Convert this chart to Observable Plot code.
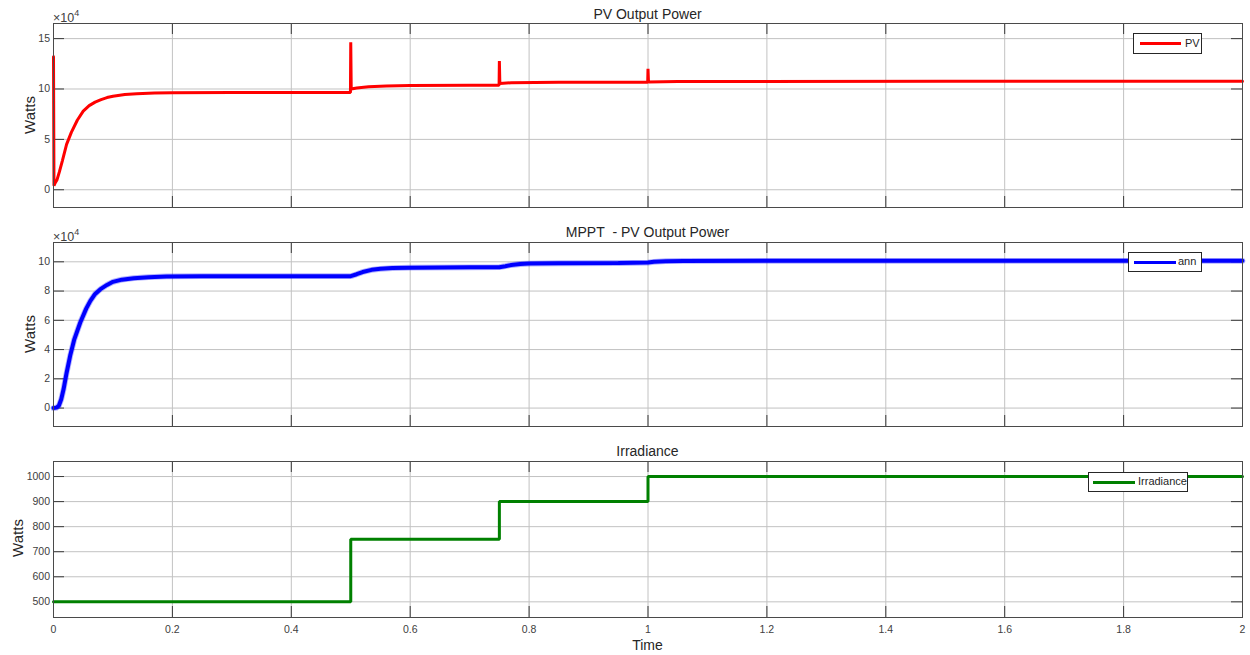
<!DOCTYPE html>
<html>
<head>
<meta charset="utf-8">
<script src="https://cdn.jsdelivr.net/npm/d3@7"></script>
<script src="https://cdn.jsdelivr.net/npm/@observablehq/plot@0.6"></script>
<style>
  html, body { margin: 0; padding: 0; background: #fff; }
  #wrap { position: relative; width: 1250px; height: 655px; overflow: hidden; background: #fff;
          font-family: "Liberation Sans", Arial, sans-serif; color: #262626; }
  .abs { position: absolute; white-space: nowrap; line-height: 1; }
  .legend { position: absolute; background: #fff; border: 1px solid #262626; box-sizing: border-box; }
  .legend .sample { position: absolute; }
  .legend .lab { position: absolute; line-height: 1; font-size: 11px; color: #262626; white-space: nowrap; }
  svg { position: absolute; left: 0; }
</style>
</head>
<body>
<div id="wrap"></div>
<script>
// ---------------- data ----------------
const xTicks = [0, 0.2, 0.4, 0.6, 0.8, 1, 1.2, 1.4, 1.6, 1.8, 2];

// PV output power (units of 10^4 W)
const pvTime = [0, 0.0008, 0.003, 0.006, 0.01, 0.015, 0.022, 0.03, 0.04, 0.05, 0.06, 0.07, 0.08, 0.09, 0.1, 0.12, 0.14, 0.17, 0.2, 0.3, 0.4995,
                0.5, 0.5008, 0.51, 0.53, 0.56, 0.6, 0.7, 0.7495,
                0.75, 0.7508, 0.77, 0.85, 0.9995,
                1.0, 1.0008, 1.05, 1.5, 2.0];
const pvPower = [13.2, 0.4, 0.7, 1.0, 1.8, 2.9, 4.5, 5.7, 6.9, 7.8, 8.35, 8.7, 8.95, 9.15, 9.28, 9.45, 9.53, 9.6, 9.63, 9.65, 9.65,
                 14.65, 10.0, 10.1, 10.22, 10.3, 10.35, 10.38, 10.38,
                 12.78, 10.55, 10.62, 10.66, 10.68,
                 12.0, 10.7, 10.75, 10.76, 10.76];
const pvTicks = [0, 5, 10, 15];

// MPPT (ann) output power (units of 10^4 W)
const annTime = [0, 0.005, 0.009, 0.013, 0.017, 0.022, 0.028, 0.035, 0.045, 0.055, 0.062, 0.07, 0.079, 0.09, 0.1, 0.115, 0.135, 0.16, 0.19, 0.25, 0.35, 0.5,
                 0.51, 0.52, 0.535, 0.55, 0.57, 0.6, 0.7, 0.75, 0.76, 0.77, 0.785, 0.8, 0.85, 0.95, 1.0, 1.01, 1.03, 1.06, 1.2, 1.5, 2.0];
const annPower = [0, 0.03, 0.16, 0.6, 1.3, 2.4, 3.57, 4.7, 5.85, 6.8, 7.33, 7.8, 8.13, 8.42, 8.63, 8.78, 8.88, 8.95, 9.0, 9.02, 9.02, 9.02,
                  9.15, 9.3, 9.45, 9.52, 9.57, 9.6, 9.62, 9.63, 9.7, 9.78, 9.85, 9.88, 9.9, 9.92, 9.95, 10.0, 10.04, 10.06, 10.07, 10.07, 10.07];
const annTicks = [0, 2, 4, 6, 8, 10];

// Irradiance
const irrTime = [0, 0.5, 0.75, 1.0, 2.0];
const irrValue = [500, 750, 900, 1000, 1000];
const irrTicks = [500, 600, 700, 800, 900, 1000];

// ---------------- drawing ----------------
const W = 1250, ML = 53, MR = 8;
const FRAME_W = W - ML - MR;
const wrap = document.getElementById("wrap");
const FONT = '"Liberation Sans", Arial, sans-serif';

function toRows(ts, vs) { return ts.map((t, i) => ({t, v: vs[i]})); }

function panel({rows, yDomain, yTicks, color, sw, top, height, mt, mb, showX, curve, halo}) {
  const frameH = height - mt - mb;
  const marks = [
    Plot.ruleX(xTicks, {stroke: "#c2c2c2", strokeWidth: 1}),
    Plot.ruleY(yTicks, {stroke: "#c2c2c2", strokeWidth: 1}),
    Plot.tickX(xTicks, {x: d => d, stroke: "#3a3a3a", insetBottom: frameH - 11}),
    Plot.tickX(xTicks, {x: d => d, stroke: "#3a3a3a", insetTop: frameH - 11}),
    Plot.tickY(yTicks, {y: d => d, stroke: "#3a3a3a", insetRight: FRAME_W - 11}),
    Plot.tickY(yTicks, {y: d => d, stroke: "#3a3a3a", insetLeft: FRAME_W - 11}),
  ];
  if (halo) marks.push(Plot.line(rows, {x: "t", y: "v", stroke: color, strokeWidth: sw + 1.8, strokeOpacity: 0.3, curve}));
  marks.push(Plot.line(rows, {x: "t", y: "v", stroke: color, strokeWidth: sw, curve, strokeLinejoin: "miter"}));
  marks.push(Plot.frame({stroke: "#4a4a4a"}));
  marks.push(Plot.axisY({ticks: yTicks, tickSize: 0, tickPadding: 3.5, label: null, fontSize: 10.5, fill: "#404040", tickFormat: d => String(d)}));
  if (showX) marks.push(Plot.axisX({ticks: xTicks, tickSize: 0, tickPadding: 8, label: null, fontSize: 10.5, fill: "#404040", tickFormat: d => String(d)}));
  const svg = Plot.plot({
    width: W, height,
    marginLeft: ML, marginRight: MR, marginTop: mt, marginBottom: mb,
    x: {domain: [0, 2], axis: null},
    y: {domain: yDomain, axis: null},
    style: {fontFamily: FONT, fontSize: "10.5px", color: "#404040", background: "transparent", overflow: "visible"},
    marks
  });
  svg.style.top = top + "px";
  wrap.appendChild(svg);
}

function text(str, {x, baseline, size, anchor = "middle", rotate = false, html = false, color}) {
  const d = document.createElement("div");
  d.className = "abs";
  d.style.fontSize = size + "px";
  if (color) d.style.color = color;
  if (html) d.innerHTML = str; else d.textContent = str;
  wrap.appendChild(d);
  if (rotate) {
    d.style.left = x + "px";
    d.style.top = baseline + "px";
    d.style.transform = "translate(-50%, -50%) rotate(-90deg)";
    d.style.transformOrigin = "center";
  } else {
    const top = baseline - 0.85 * size;
    d.style.top = top + "px";
    if (anchor === "middle") { d.style.left = x + "px"; d.style.transform = "translateX(-50%)"; }
    else d.style.left = x + "px";
  }
  return d;
}

function legend({left, top, width, height, color, sw, sampleLeft, sampleWidth, label, labelLeft}) {
  const box = document.createElement("div");
  box.className = "legend";
  Object.assign(box.style, {left: left + "px", top: top + "px", width: width + "px", height: height + "px"});
  const s = document.createElement("div");
  s.className = "sample";
  Object.assign(s.style, {left: (sampleLeft - left) + "px", width: sampleWidth + "px", height: sw + "px",
    top: (height / 2 - sw / 2 - 1) + "px", background: color});
  const l = document.createElement("div");
  l.className = "lab";
  l.textContent = label;
  Object.assign(l.style, {left: (labelLeft - left) + "px", top: (height / 2 - 7) + "px"});
  box.appendChild(s); box.appendChild(l);
  wrap.appendChild(box);
}

// Panel 1: PV Output Power
panel({rows: toRows(pvTime, pvPower), yDomain: [-1.76, 16.5], yTicks: pvTicks, color: "#ff0000", sw: 3,
       top: 0, height: 212, mt: 23, mb: 5, showX: false, curve: "linear"});
// Panel 2: MPPT - PV Output Power
panel({rows: toRows(annTime, annPower), yDomain: [-1.26, 11.32], yTicks: annTicks, color: "#0000ff", sw: 4,
       top: 230, height: 200, mt: 12, mb: 4, showX: false, curve: "linear", halo: true});
// Panel 3: Irradiance
panel({rows: toRows(irrTime, irrValue), yDomain: [437.5, 1060], yTicks: irrTicks, color: "#008000", sw: 3,
       top: 440, height: 215, mt: 21, mb: 38, showX: true, curve: "step-after"});

// Titles
text("PV Output Power", {x: 647.5, baseline: 18.5, size: 14});
text("MPPT&nbsp; - PV Output Power", {x: 647.5, baseline: 236.5, size: 14, html: true});
text("Irradiance", {x: 647.5, baseline: 455.5, size: 14});
text("Time", {x: 647.5, baseline: 650, size: 14});

// Exponent labels
const expo = '×10<sup style="font-size:9px;vertical-align:6px">4</sup>';
text(expo, {x: 53, baseline: 19.5, size: 12.5, anchor: "start", html: true, color: "#404040"});
text(expo, {x: 53, baseline: 238.5, size: 12.5, anchor: "start", html: true, color: "#404040"});

// Y labels
text("Watts", {x: 29, baseline: 115, size: 15, rotate: true});
text("Watts", {x: 29, baseline: 334, size: 15, rotate: true});
text("Watts", {x: 17, baseline: 538, size: 15, rotate: true});

// Legends
legend({left: 1133, top: 33, width: 69, height: 21, color: "#ff0000", sw: 3, sampleLeft: 1139, sampleWidth: 41, label: "PV", labelLeft: 1184});
legend({left: 1128, top: 252, width: 74, height: 20, color: "#0000ff", sw: 3, sampleLeft: 1133, sampleWidth: 42, label: "ann", labelLeft: 1177});
legend({left: 1088, top: 472, width: 100, height: 20, color: "#008000", sw: 3, sampleLeft: 1092, sampleWidth: 42, label: "Irradiance", labelLeft: 1137});
</script>
</body>
</html>
